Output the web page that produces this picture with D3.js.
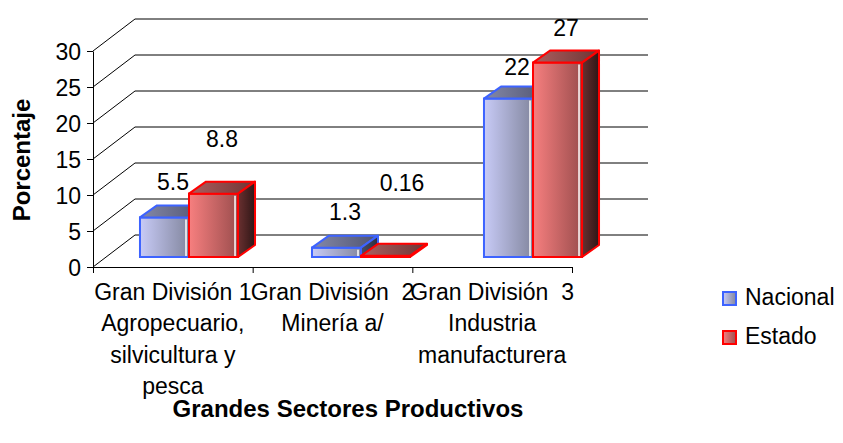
<!DOCTYPE html>
<html>
<head>
<meta charset="utf-8">
<script src="https://cdn.jsdelivr.net/npm/d3@7"></script>
<style>
  body { margin: 0; background: #fff; }
  text { font-family: "Liberation Sans", Arial, sans-serif; fill: #000; }
</style>
</head>
<body>
<div id="chart"></div>
<script>
// data
var categories = ["GD1", "GD2", "GD3"];
var catLabels = [
  ["Gran División 1", "Agropecuario,", "silvicultura y", "pesca"],
  ["Gran División  2", "Minería a/"],
  ["Gran División  3", "Industria", "manufacturera"]
];
var series = ["Nacional", "Estado"];
var nacional = [5.5, 1.3, 22];
var estado = [8.8, 0.16, 27];
var valueLabels = [["5.5", "1.3", "22"], ["8.8", "0.16", "27"]];
var yTicks = [0, 5, 10, 15, 20, 25, 30];

var width = 843, height = 443;
var fontSize = 23, titleSize = 24;

// layout
var wallDx = 42, wallDy = 32;     // front axis -> back wall
var barDx = 17, barDy = 12;       // depth of a single column
var labelLift = [[15, 16, 12], [35, 53, 15]]; // excel put them a bit odd
var labelNudge = [[0, 0, 0], [0, 8, 0]];

var svg = d3.select("#chart")
  .append("svg")
  .attr("width", width)
  .attr("height", height);

var defs = svg.append("defs");
function grad(id, c1, c2) {
  var g = defs.append("linearGradient").attr("id", id)
    .attr("x1", "0%").attr("x2", "100%").attr("y1", "0%").attr("y2", "0%");
  g.append("stop").attr("offset", "0%").attr("stop-color", c1);
  g.append("stop").attr("offset", "100%").attr("stop-color", c2);
}
var colors = [
  { stroke: "#3d63ff", front: ["#c8cbf7", "#83879f"], top: ["#8589a8", "#4e5270"], side: ["#4a4e66", "#2c2e3e"] },
  { stroke: "#ff0000", front: ["#f77f7f", "#9c4e4e"], top: ["#ad6060", "#6e3434"], side: ["#6a3030", "#2e1616"] }
];
colors.forEach(function(c, i) {
  grad("front" + i, c.front[0], c.front[1]);
  grad("top" + i, c.top[0], c.top[1]);
  grad("side" + i, c.side[0], c.side[1]);
});

/* scales */
var yFront = d3.scaleLinear().domain([0, 30]).range([267, 51]);
var yBar = d3.scaleLinear().domain([0, 30]).range([257, 41]);
var xEdges = d3.scaleLinear().domain([0, 3]).range([93, 572]);
var x0 = d3.scaleBand().domain(categories).range([103, 619])
  .paddingInner(0.43).paddingOuter(0.215);
var x1 = d3.scaleBand().domain(series).range([0, x0.bandwidth()]);

/* walls: diagonals + back gridlines */
var grid = svg.append("g").attr("class", "grid");
yTicks.forEach(function(t) {
  var yf = yFront(t);
  grid.append("line")
    .attr("x1", 93).attr("y1", yf)
    .attr("x2", 93 + wallDx).attr("y2", yf - wallDy)
    .attr("stroke", "#000").attr("stroke-width", 1);
  grid.append("line")
    .attr("x1", 93 + wallDx).attr("y1", yf - wallDy)
    .attr("x2", 648).attr("y2", yf - wallDy)
    .attr("stroke", "#000").attr("stroke-width", 1);
});

/* y axis */
var yAxis = svg.append("g")
  .attr("transform", "translate(93,0)")
  .call(d3.axisLeft(yFront).tickValues(yTicks).tickSize(6).tickSizeOuter(0).tickPadding(6));
yAxis.selectAll("text").style("font-size", fontSize + "px").attr("dy", "0.36em")
  .style("font-family", '"Liberation Sans", Arial, sans-serif').attr("fill", "#000");
yAxis.selectAll("line,path").attr("stroke", "#000");

/* x axis (ticks between categories) */
var xAxis = svg.append("g")
  .attr("transform", "translate(0,267)")
  .call(d3.axisBottom(xEdges).tickValues([0, 1, 2, 3]).tickSize(6).tickSizeOuter(0).tickFormat(""));
xAxis.selectAll("line,path").attr("stroke", "#000");

/* columns */
var allValues = [nacional, estado];
var bars = svg.append("g").attr("class", "bars");
categories.forEach(function(cat, ci) {
  series.forEach(function(s, si) {
    var v = allValues[si][ci];
    var xl = x0(cat) + x1(s), xr = xl + x1.bandwidth();
    var yt = yBar(v), yb = yBar(0);
    var c = colors[si];
    var g = bars.append("g");
    g.append("rect")
      .attr("x", xl).attr("y", yt)
      .attr("width", xr - xl).attr("height", Math.max(yb - yt, 0.5))
      .attr("fill", "url(#front" + si + ")")
      .attr("stroke", c.stroke).attr("stroke-width", 2);
    if (yb - yt > 8) {
      // thin light seam at the edge of the front face
      g.append("line")
        .attr("x1", xr - 3).attr("x2", xr - 3)
        .attr("y1", yt + 2).attr("y2", yb - 1)
        .attr("stroke", "#fff").attr("stroke-width", 1.5);
    }
    g.append("path")
      .attr("d", "M" + xl + "," + yt + "L" + (xl + barDx) + "," + (yt - barDy) +
                 "L" + (xr + barDx) + "," + (yt - barDy) + "L" + xr + "," + yt + "Z")
      .attr("fill", "url(#top" + si + ")")
      .attr("stroke", c.stroke).attr("stroke-width", 2).attr("stroke-linejoin", "round");
    g.append("path")
      .attr("d", "M" + xr + "," + yt + "L" + (xr + barDx) + "," + (yt - barDy) +
                 "L" + (xr + barDx) + "," + (yb - barDy) + "L" + xr + "," + yb + "Z")
      .attr("fill", "url(#side" + si + ")")
      .attr("stroke", c.stroke).attr("stroke-width", 2).attr("stroke-linejoin", "round");

    svg.append("text")
      .attr("x", (xl + xr) / 2 + barDx / 2 + labelNudge[si][ci])
      .attr("y", yt - barDy - labelLift[si][ci])
      .attr("text-anchor", "middle")
      .style("font-size", fontSize + "px")
      .text(valueLabels[si][ci]);
  });
});

/* category labels */
categories.forEach(function(cat, ci) {
  var cx = (xEdges(ci) + xEdges(ci + 1)) / 2;
  var t = svg.append("text")
    .attr("text-anchor", "middle")
    .style("font-size", fontSize + "px")
    .style("white-space", "pre");
  catLabels[ci].forEach(function(line, li) {
    t.append("tspan").attr("x", cx).attr("y", 300 + li * 31.3).text(line);
  });
});

/* axis titles */
svg.append("text")
  .attr("x", 348).attr("y", 417)
  .attr("text-anchor", "middle")
  .style("font-size", titleSize + "px").style("font-weight", "bold")
  .text("Grandes Sectores Productivos");

svg.append("text")
  .attr("transform", "translate(30,160) rotate(-90)")
  .attr("text-anchor", "middle")
  .style("font-size", titleSize + "px").style("font-weight", "bold")
  .text("Porcentaje");

/* legend */
var legend = svg.append("g").attr("transform", "translate(722,291)");
series.forEach(function(s, i) {
  var row = legend.append("g").attr("transform", "translate(0," + (i * 39) + ")");
  row.append("rect")
    .attr("x", 1).attr("y", 1).attr("width", 13).attr("height", 13)
    .attr("fill", "url(#front" + i + ")")
    .attr("stroke", colors[i].stroke).attr("stroke-width", 2);
  row.append("text")
    .attr("x", 23).attr("y", 14)
    .style("font-size", fontSize + "px")
    .text(s);
});
</script>
</body>
</html>
